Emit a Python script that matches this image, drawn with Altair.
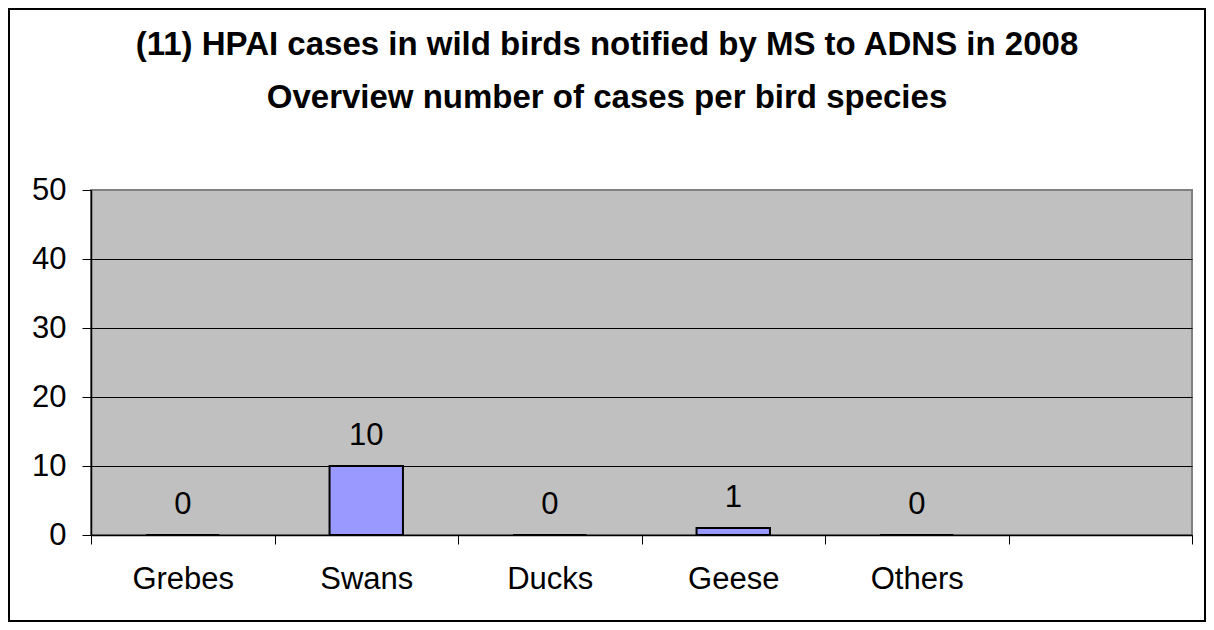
import altair as alt
import pandas as pd

species = ["Grebes", "Swans", "Ducks", "Geese", "Others"]
cases = [0, 10, 0, 1, 0]
slots = species + [""]
y_ticks = [0, 10, 20, 30, 40, 50]
title_lines = ["(11) HPAI cases in wild birds notified by MS to ADNS in 2008",
               "Overview number of cases per bird species"]

df = pd.DataFrame({"species": species, "cases": cases})

FONT = "Liberation Sans"
W, H = 1101, 345

x_enc = alt.X("species:N", sort=slots,
              scale=alt.Scale(domain=slots, paddingInner=0, paddingOuter=0),
              axis=alt.Axis(title=None, labelAngle=0, labelFontSize=31, labelFont=FONT,
                            labelColor="black", domainColor="black", domainWidth=1.5,
                            tickColor="black", tickSize=9, tickWidth=1, tickBand="extent",
                            labelPadding=20, grid=False))
y_enc = alt.Y("cases:Q", scale=alt.Scale(domain=[0, 50], nice=False),
              axis=alt.Axis(title=None, values=y_ticks, labelFontSize=31, labelFont=FONT,
                            labelColor="black", domainColor="black", domainWidth=1.5,
                            tickColor="black", tickSize=9, tickWidth=1, labelPadding=16,
                            grid=True, gridWidth=1,
                            gridColor={"condition": {"test": "datum.value === 50", "value": "#808080"},
                                       "value": "black"}))

border = alt.Chart(alt.Data(values=[{}])).mark_rect(
    fill=None, stroke="black", strokeWidth=2
).encode(x=alt.value(-82), x2=alt.value(W + 13), y=alt.value(-181), y2=alt.value(H + 86))

title = alt.Chart(alt.Data(values=[{}])).mark_text(
    text=title_lines, fontSize=33, font=FONT, fontWeight="bold", color="black",
    align="center", baseline="alphabetic", lineHeight=53
).encode(x=alt.value(516), y=alt.value(-135))

bars = alt.Chart(df).mark_bar(color="#9999FF", stroke="black", strokeWidth=2,
                              width=alt.RelativeBandSize(0.4)).encode(x=x_enc, y=y_enc)

labels = alt.Chart(df).mark_text(dy=-21.5, baseline="alphabetic", fontSize=31,
                                 font=FONT, color="black").encode(
    x=alt.X("species:N", sort=slots), y="cases:Q", text="cases:Q")

chart = alt.layer(border, title, bars, labels).properties(
    width=W, height=H,
    autosize=alt.AutoSizeParams(type="none"),
    padding={"left": 83, "top": 182, "right": 14, "bottom": 87},
).configure(background="white").configure_view(fill="#C0C0C0", stroke="#808080", strokeWidth=2)

chart.save("out.html", embed_options={"renderer": "svg", "actions": False})
